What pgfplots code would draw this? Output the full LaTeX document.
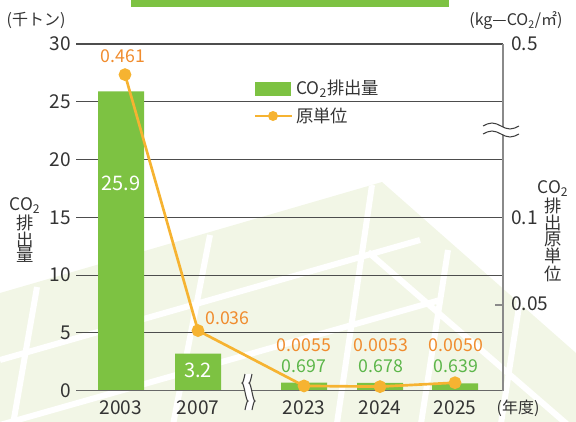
\documentclass[border=0pt]{standalone}
\usepackage{fontspec}
\setmainfont{Noto Sans CJK JP}
\usepackage{pgfplots}
\pgfplotsset{compat=1.18}

\definecolor{barg}{HTML}{7DC242}
\definecolor{txtg}{HTML}{5CB64A}
\definecolor{lineo}{HTML}{F6B331}
\definecolor{txto}{HTML}{F08C2E}
\definecolor{gridc}{HTML}{4D4D4D}
\definecolor{axc}{HTML}{8A8A8A}
\definecolor{bgg}{HTML}{F2F6E6}
\definecolor{labc}{HTML}{333333}

\newcommand{\tickfont}{\fontsize{14.3}{16}\selectfont}
\newcommand{\valfont}{\fontsize{13.3}{15}\selectfont}
\newcommand{\jpfont}{\fontsize{12}{12}\selectfont}
\newcommand{\legfont}{\fontsize{13}{13}\selectfont}
\newcommand{\vfont}{\fontsize{13}{11.6}\selectfont}

\begin{document}
\begin{tikzpicture}
\path[use as bounding box] (0,0) rectangle (432pt,-316.5pt);

% background pattern and top band (pixel grid, origin top left)
\begin{scope}[x=0.75pt,y=-0.75pt]
  \begin{scope}
    \clip (0,293) -- (382,182) -- (576,353) -- (576,422) -- (0,422) -- cycle;
    \fill[bgg] (0,0) rectangle (576,422);
    \draw[white, line width=4.5pt]
      (0,360) -- (420,240)
      (0,425) -- (440,300)
      (37,287) -- (12,430)
      (210,235) -- (172,430)
      (372,185) -- (336,430)
      (368,252) -- (576,432)
      (448,250) -- (420,430)
      (520,300) -- (500,430);
  \end{scope}
  \fill[barg] (131,0) rectangle (449,7);
\end{scope}

% emissions (left scale)
\begin{axis}[
  at={(57pt,-293pt)}, anchor=south west,
  scale only axis, width=320.25pt, height=260pt,
  xmin=76, xmax=503, ymin=0, ymax=30,
  axis lines*=left,
  axis line style={draw=none},
  major tick length=0pt,
  ytick={0,5,...,30},
  xtick={121,198,304,380,455},
  xticklabels={2003,2007,2023,2024,2025},
  ymajorgrids,
  grid style={gridc, line width=0.8pt},
  tick label style={font=\tickfont, text=labc},
  /pgf/number format/assume math mode=true,
  yticklabel style={inner sep=0pt, xshift=-3.75pt},
  xticklabel style={inner sep=0pt, yshift=-7.5pt},
  clip=false,
]
\addplot[ybar, bar width=34.5pt, bar shift=0pt, fill=barg, draw=none]
  coordinates {(121,25.9) (198,3.2) (304,0.697) (380,0.678) (455,0.639)};
\draw[gridc!85, line width=1pt] (axis cs:76,0) -- (axis cs:503,0);
\node[font=\fontsize{15}{16}\selectfont, text=white] at (axis cs:121,17.96) {25.9};
\node[font=\fontsize{15}{16}\selectfont, text=white] at (axis cs:198,1.8) {3.2};
\node[font=\valfont, text=txtg] at (axis cs:304,2.14) {0.697};
\node[font=\valfont, text=txtg] at (axis cs:381,2.14) {0.678};
\node[font=\valfont, text=txtg] at (axis cs:456,2.14) {0.639};
\end{axis}

% intensity (right scale, broken above 0.1)
\begin{axis}[
  at={(57pt,-293pt)}, anchor=south west,
  scale only axis, width=320.25pt, height=260pt,
  xmin=76, xmax=503, ymin=0, ymax=30,
  axis x line=none,
  axis y line*=right,
  axis line style={draw=none},
  major tick length=0pt,
  ytick={7.5,15,30},
  yticklabels={0.05,0.1,0.5},
  tick label style={font=\tickfont, text=labc},
  /pgf/number format/assume math mode=true,
  yticklabel style={anchor=west, inner sep=0pt, xshift=6pt},
  clip=false,
]
\draw[axc, line width=1pt] (axis cs:503,0) -- (axis cs:503,30);
\draw[axc, line width=1pt] (axis cs:495,7.41) -- (axis cs:503,7.41);
\addplot[lineo, line width=2pt, mark=*, mark size=3.75pt,
  mark options={fill=lineo, draw=none}]
  coordinates {(125,27.35) (198,5.2) (304,0.41) (380,0.35) (455,0.69)};
\node[font=\valfont, text=txto] at (axis cs:123,28.95) {0.461};
\node[font=\valfont, text=txto, anchor=west, inner sep=0pt] at (axis cs:205,6.31) {0.036};
\node[font=\valfont, text=txto] at (axis cs:304,3.96) {0.0055};
\node[font=\valfont, text=txto] at (axis cs:381,3.96) {0.0053};
\node[font=\valfont, text=txto] at (axis cs:456,3.96) {0.0050};
\end{axis}

% titles, legend, break marks
\begin{scope}[x=0.75pt,y=-0.75pt]
  \node[font=\jpfont, text=labc] at (36,20) {(千トン)};
  \node[font=\jpfont, text=labc] at (516,21) {(kg—CO\textsubscript{2}/㎡)};
  \node[font=\jpfont, text=labc] at (518,408) {(年度)};
  \node[font=\vfont, text=labc, align=center, inner sep=0pt] at (25,230)
    {CO\textsubscript{2}\\排\\出\\量};
  \node[font=\vfont, text=labc, align=center, inner sep=0pt] at (553,231)
    {CO\textsubscript{2}\\排\\出\\原\\単\\位};

  \fill[barg] (255,82) rectangle (291,96);
  \node[font=\legfont, text=labc, anchor=west, inner sep=0pt] at (296,89) {CO\textsubscript{2}排出量};
  \draw[lineo, line width=2pt] (255,116) -- (292,116);
  \fill[lineo] (273,116) circle (3.75pt);
  \node[font=\legfont, text=labc, anchor=west, inner sep=0pt] at (296,116) {原単位};

  % right axis break
  \fill[white] (483,126) sin (492,123) cos (501,126) sin (510,129) cos (519,126)
    -- (519,134) sin (510,137) cos (501,134) sin (492,131) cos (483,134) -- cycle;
  \draw[black!75, line width=0.8pt] (483,126) sin (492,123) cos (501,126) sin (510,129) cos (519,126);
  \draw[black!75, line width=0.8pt] (483,134) sin (492,131) cos (501,134) sin (510,137) cos (519,134);

  % x axis break
  \fill[white] (245,374) sin (242,383) cos (245,392) sin (248,401) cos (245,410)
    -- (252,410) sin (255,401) cos (252,392) sin (249,383) cos (252,374) -- cycle;
  \draw[black!75, line width=0.8pt] (245,374) sin (242,383) cos (245,392) sin (248,401) cos (245,410);
  \draw[black!75, line width=0.8pt] (252,374) sin (249,383) cos (252,392) sin (255,401) cos (252,410);
\end{scope}
\end{tikzpicture}
\end{document}
